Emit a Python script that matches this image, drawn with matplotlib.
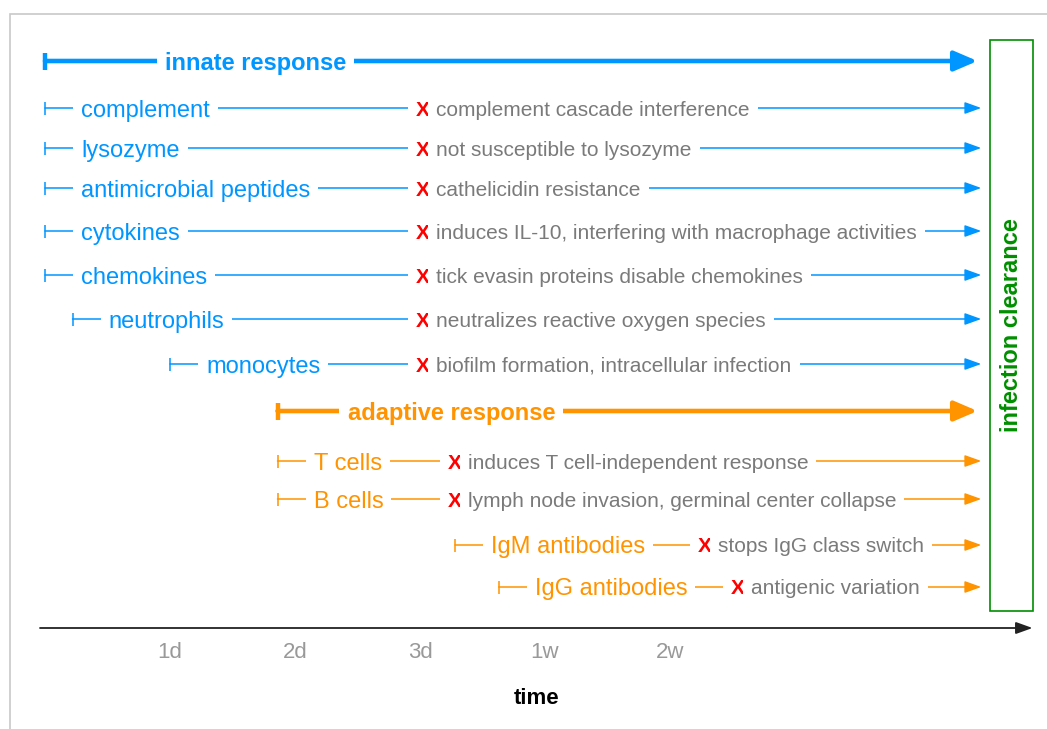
import matplotlib as mpl
mpl.use('Agg')
import matplotlib.pyplot as plt
from matplotlib.patches import Rectangle, ArrowStyle

plt.rcParams['font.family'] = ['Liberation Sans', 'DejaVu Sans']

# timeline rows, top to bottom
names = ['innate response', 'complement', 'lysozyme', 'antimicrobial peptides',
         'cytokines', 'chemokines', 'neutrophils', 'monocytes',
         'adaptive response', 'T cells', 'B cells', 'IgM antibodies', 'IgG antibodies']
branch = ['innate'] * 8 + ['adaptive'] * 5
header = [True] + [False] * 7 + [True] + [False] * 4
# onset on the time axis (1 = 1d, 2 = 2d, 3 = 3d, 4 = 1w, 5 = 2w)
onset = [0, 0, 0, 0, 0, 0, 0.22, 1.0, 1.86, 1.86, 1.86, 3.28, 3.63]
evasion = [None,
           'complement cascade interference',
           'not susceptible to lysozyme',
           'cathelicidin resistance',
           'induces IL-10, interfering with macrophage activities',
           'tick evasin proteins disable chemokines',
           'neutralizes reactive oxygen species',
           'biofilm formation, intracellular infection',
           None,
           'induces T cell-independent response',
           'lymph node invasion, germinal center collapse',
           'stops IgG class switch',
           'antigenic variation']
evasion_at = [None, 2.97, 2.97, 2.97, 2.97, 2.97, 2.97, 2.97, None, 3.22, 3.22, 5.22, 5.49]
header_label_at = {'innate': 0.96, 'adaptive': 2.42}

tick_pos = [1, 2, 3, 4, 5]
tick_labels = ['1d', '2d', '3d', '1w', '2w']
clearance_at = 7.49

# vertical layout (pixels from the top)
row_y = [61, 108, 148, 188, 231, 275, 319, 364, 411, 461, 499, 545, 587]
axis_y = 628

colors = {'innate': '#0096FF', 'adaptive': '#FF9300'}
green = '#008F00'
gray = '#7A7A7A'

fig = plt.figure(figsize=(10.47, 7.29), dpi=100)
ax = fig.add_axes([0, 0, 1, 1])
ax.set_xlim(-0.36, 8.016)
ax.set_ylim(729, 0)
ax.axis('off')

# light frame around the drawing
fig.add_artist(Rectangle((10 / 1047, -0.1), 1.0, 1 - 14 / 729 + 0.1, transform=fig.transFigure,
                         fill=False, ec='#C8C8C8', lw=1.2))

PAD_PX = 8 / 1.389  # gap around text, in points


def arrow(x0, x1, y, c, lw, hl, hw):
    ax.annotate('', xy=(x1, y), xytext=(x0, y),
                arrowprops=dict(arrowstyle=ArrowStyle('-|>', head_length=hl, head_width=hw),
                                mutation_scale=1, shrinkA=0, shrinkB=0, color=c, lw=lw),
                zorder=1)


def boxed(fs):
    return dict(boxstyle='square,pad=%.3f' % (PAD_PX / fs), fc='white', ec='none')


for i, name in enumerate(names):
    c = colors[branch[i]]
    s = onset[i]
    y = row_y[i]
    if header[i]:
        ax.plot([s, s], [y - 8.5, y + 8.5], color=c, lw=3.2, solid_capstyle='butt', zorder=1)
        arrow(s, clearance_at - 0.03, y, c, 3.3, 14, 6.0)
        ax.text(header_label_at[branch[i]], y, name, color=c, fontsize=17, fontweight='bold',
                ha='left', va='center_baseline', bbox=boxed(17), zorder=3)
        continue
    ax.plot([s, s], [y - 6.5, y + 6.5], color=c, lw=1.1, solid_capstyle='butt', zorder=1)
    arrow(s, clearance_at, y, c, 1.1, 10, 3.6)
    ax.annotate(name, xy=(s, y), xytext=(26, 0), textcoords='offset points',
                color=c, fontsize=17, ha='left', va='center_baseline', bbox=boxed(17), zorder=3)
    ax.text(evasion_at[i], y, 'X', color='#FF0000', fontsize=15, fontweight='bold',
            ha='left', va='center_baseline', bbox=boxed(15), zorder=3)
    ax.annotate(evasion[i], xy=(evasion_at[i], y), xytext=(14.4, 0), textcoords='offset points',
                color=gray, fontsize=15, ha='left', va='center_baseline', bbox=boxed(15), zorder=4)

# infection clearance box
ax.add_patch(Rectangle((7.56, 40), 0.344, 571, fill=False, ec=green, lw=1.2))
ax.text(7.732, 325.5, 'infection clearance', rotation=90, color=green, fontsize=17,
        fontweight='bold', ha='center', va='center')

# time axis
arrow(-0.04, 7.90, axis_y, '#222222', 1.3, 10, 3.6)
for p, lab in zip(tick_pos, tick_labels):
    ax.text(p, axis_y + 24, lab, color='#999999', fontsize=16, ha='center', va='center')
ax.text((-0.04 + 7.90) / 2, axis_y + 71, 'time', color='black', fontsize=16,
        fontweight='bold', ha='center', va='center')

fig.savefig('out.png', dpi=100)
